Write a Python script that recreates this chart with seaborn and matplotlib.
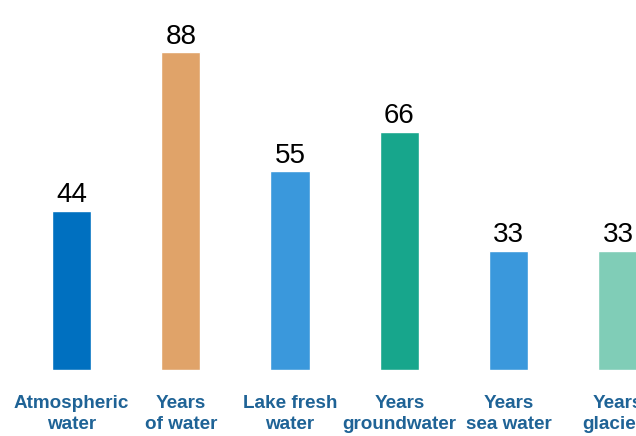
import matplotlib
matplotlib.use("Agg")
import matplotlib.pyplot as plt
import seaborn as sns
import pandas as pd

categories = ["Atmospheric\nwater", "Years\nof water", "Lake fresh\nwater",
              "Years\ngroundwater", "Years\nsea water", "Years\nglaciers"]
values = [44, 88, 55, 66, 33, 33]
colors = ["#0070C0", "#E0A369", "#3A98DC", "#17A68C", "#3A98DC", "#80CDB7"]

sns.set_theme(style="white")
plt.rcParams['font.family'] = ['Liberation Sans', 'DejaVu Sans']

df = pd.DataFrame({"cat": categories, "val": values})

fig = plt.figure(figsize=(6.36, 4.36), dpi=100)
ax = fig.add_axes([0, 66/436, 1, 370/436])
sns.barplot(data=df, x="cat", y="val", hue="cat", palette=colors,
            width=0.36, legend=False, ax=ax, saturation=1)
ax.set_xlim(-71.5/109.3, (636-71.5)/109.3)
ax.set_ylim(0, 102.5)
for i, v in enumerate(values):
    ax.annotate(str(v), (i, v), xytext=(0, 2), textcoords="offset points",
                ha="center", va="bottom", fontsize=20, color="black")
ax.set_xlabel("")
ax.set_ylabel("")
ax.set_yticks([])
ax.tick_params(axis="x", length=0, pad=18)
for lab in ax.get_xticklabels():
    lab.set_fontweight("bold")
    lab.set_fontsize(13.6)
    lab.set_color("#1F6396")
    lab.set_linespacing(1.27)
for s in ax.spines.values():
    s.set_visible(False)
fig.savefig("out.png", dpi=100)
